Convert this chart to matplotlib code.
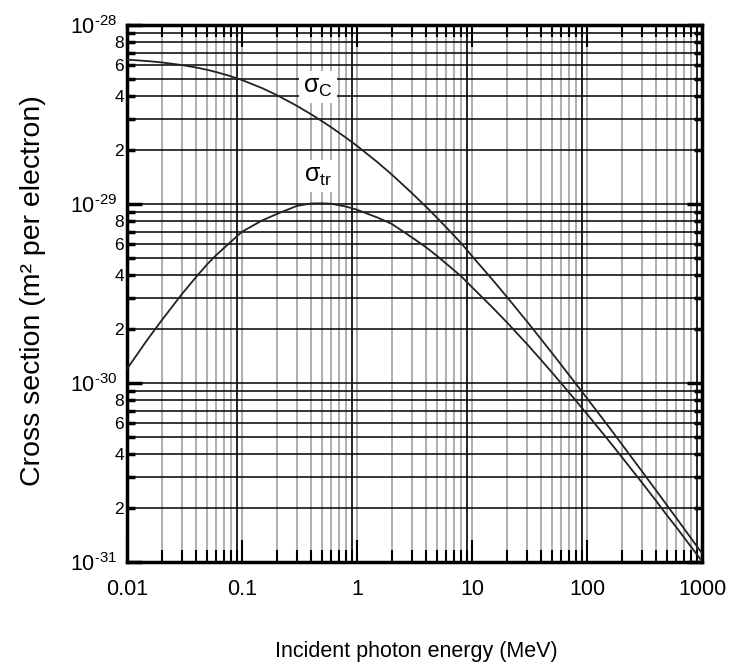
import numpy as np
import matplotlib
matplotlib.use("Agg")
import matplotlib.pyplot as plt
from matplotlib.ticker import FixedLocator, FuncFormatter, NullFormatter

# Photon energy (MeV) and cross sections, in units of 1e-28 m^2
energy = [0.01, 0.015, 0.02, 0.03, 0.04, 0.05, 0.06, 0.08, 0.1, 0.15, 0.2, 0.3,
          0.4, 0.5, 0.6, 0.8, 1.0, 1.5, 2, 3, 4, 5, 6, 8, 10, 15, 20, 30, 40,
          50, 60, 80, 100, 150, 200, 300, 400, 500, 600, 800, 1000]
sigma_c = [0.6405, 0.6289, 0.6180, 0.5975, 0.5787, 0.5617, 0.5453, 0.5170,
           0.4927, 0.4436, 0.4065, 0.3535, 0.3167, 0.2892, 0.2675, 0.2350,
           0.2112, 0.1716, 0.1464, 0.1151, 0.0963, 0.0834, 0.0738, 0.0607,
           0.0512, 0.0379, 0.0304, 0.0221, 0.01752, 0.01461, 0.01257, 0.0099,
           0.00822, 0.005844, 0.004566, 0.003216, 0.002504, 0.00206, 0.001756,
           0.001362, 0.001118]
sigma_tr = [0.01198, 0.01742, 0.02237, 0.03137, 0.03918, 0.0462, 0.0520, 0.0615,
            0.0700, 0.0810, 0.0878, 0.0976, 0.1007, 0.1009, 0.1003, 0.0968,
            0.0929, 0.0841, 0.0775, 0.0651, 0.0572, 0.0511, 0.0463, 0.0396,
            0.0343, 0.0265, 0.0219, 0.01653, 0.01342, 0.01138, 0.00992, 0.00797,
            0.00671, 0.00488, 0.00387, 0.00278, 0.00219, 0.00181, 0.00156,
            0.00122, 0.00101]
unit = 1e-28

x_major = [0.01, 0.1, 1, 10, 100, 1000]
y_major = [1e-31, 1e-30, 1e-29, 1e-28]

plt.rcParams['font.family'] = ['Liberation Sans', 'DejaVu Sans']
plt.rcParams['mathtext.fontset'] = 'custom'
plt.rcParams['mathtext.rm'] = 'Liberation Sans'
plt.rcParams['mathtext.it'] = 'Liberation Sans'
plt.rcParams['mathtext.default'] = 'regular'

fig = plt.figure(figsize=(7.35, 6.72), dpi=100)
ax = fig.add_axes([127 / 735, 1 - 562 / 672, 575 / 735, 537 / 672])

e = np.array(energy)
ax.plot(e, np.array(sigma_c) * unit, color='#222222', lw=1.3, zorder=3)
ax.plot(e, np.array(sigma_tr) * unit, color='#222222', lw=1.3, zorder=3)

ax.set_xscale('log')
ax.set_yscale('log')
ax.set_xlim(x_major[0], x_major[-1])
ax.set_ylim(y_major[0], y_major[-1])


def minors(decades):
    return [m * d for d in decades[:-1] for m in range(2, 10)]


ax.xaxis.set_major_locator(FixedLocator(x_major))
ax.xaxis.set_minor_locator(FixedLocator(minors(x_major)))
ax.yaxis.set_major_locator(FixedLocator(y_major))
ax.yaxis.set_minor_locator(FixedLocator(minors(y_major)))

ax.xaxis.set_major_formatter(FuncFormatter(lambda v, p: f'{v:g}'))
ax.xaxis.set_minor_formatter(NullFormatter())
ax.yaxis.set_major_formatter(
    FuncFormatter(lambda v, p: r'$10^{\text{-}%d}$' % abs(round(np.log10(v)))))


def minor_y(v, p):
    lead = int(round(v / 10 ** np.floor(np.log10(v) + 1e-9)))
    return str(lead) if lead in (2, 4, 6, 8) else ''


ax.yaxis.set_minor_formatter(FuncFormatter(minor_y))

ax.tick_params(axis='x', which='major', direction='in', length=16, width=1.5,
               top=True, labelsize=15.5, pad=12)
ax.tick_params(axis='x', which='minor', direction='in', length=8.5, width=1.5,
               top=True)
ax.tick_params(axis='y', which='major', direction='in', length=11, width=2.5,
               right=True, labelsize=15.5, pad=7)
ax.tick_params(axis='y', which='minor', direction='in', length=6, width=2.5,
               right=True, labelsize=12.5, pad=2)

# grid: black horizontals, grey verticals (the 9x lines print dark)
ax.grid(True, which='both', axis='y', color='black', lw=1.1)
ax.grid(True, which='both', axis='x', color='#9a9a9a', lw=1.1)
for d in x_major[:-1]:
    ax.axvline(9 * d, color='black', lw=1.1, zorder=1.6)

for s in ax.spines.values():
    s.set_linewidth(2.5)

box = dict(facecolor='white', edgecolor='none', pad=3)
ax.text(0.46, 4.5e-29, r'$\sigma_C$', fontsize=18, ha='center', va='center',
        bbox=box, zorder=4)
ax.text(0.46, 1.43e-29, r'$\sigma_{tr}$', fontsize=18, ha='center', va='center',
        bbox=box, zorder=4)

fig.text(33 / 735, 1 - 291 / 672, 'Cross section (m² per electron)', rotation=90,
         ha='center', va='center', fontsize=20.5)
fig.text(416 / 735, 1 - 652 / 672, 'Incident photon energy (MeV)', ha='center',
         va='center', fontsize=15.5)

fig.savefig('out.png', dpi=100)
